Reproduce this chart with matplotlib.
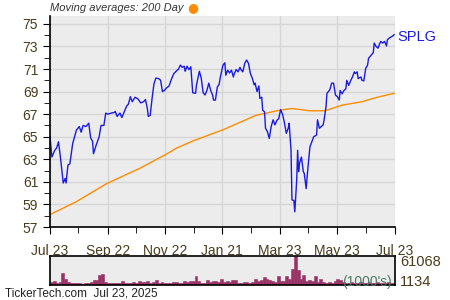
import datetime as dt

import matplotlib
matplotlib.use("Agg")
import matplotlib.pyplot as plt
import matplotlib.dates as mdates
import numpy as np

plt.rcParams["font.family"] = ["Liberation Sans", "DejaVu Sans"]

# ---------------------------------------------------------------------------
# Data
# ---------------------------------------------------------------------------
START = dt.date(2024, 7, 23)
END = dt.date(2025, 7, 23)

# days after START, closing price
price_days = [
    0.5, 2.5, 5.3, 7.0, 9.5, 11.6, 14.1, 16.6, 17.6, 19.4, 21.9, 24.7, 28.2,
    31.7, 33.5, 35.3, 38.8, 41.6, 43.4, 45.1, 46.9, 49.4, 52.2, 54.0, 57.5,
    59.2, 61.7, 65.2, 68.0, 69.8, 71.6, 74.1, 76.5, 78.6, 81.1, 83.6, 85.7,
    87.8, 90.6, 93.5, 96.3, 99.1, 101.2, 103.3, 104.7, 106.9, 108.3, 110.4,
    112.9, 115.3, 117.4, 119.9, 121.7, 123.4, 126.2, 128.7, 131.2, 134.0,
    136.5, 138.6, 140.4, 142.1, 143.5, 145.7, 147.4, 149.9, 151.6, 154.1,
    155.9, 158.7, 160.5, 162.2, 164.0, 166.4, 168.6, 170.3, 172.1, 173.5,
    175.6, 177.4, 179.1, 180.9, 183.4, 185.1, 186.9, 188.7, 190.4, 192.2,
    194.0, 195.7, 197.5, 199.6, 201.0, 202.8, 204.5, 206.3, 208.8, 210.9,
    212.3, 214.4, 216.2, 217.9, 219.7, 221.1, 222.9, 224.3, 225.7, 227.1,
    228.5, 230.6, 232.8, 234.5, 236.3, 238.0, 240.9, 242.3, 244.4, 246.9,
    248.6, 250.4, 252.1, 253.9, 255.7, 256.7, 258.5, 259.9, 261.0, 262.0,
    263.4, 264.5, 266.3, 268.0, 269.8, 271.5, 273.3, 275.1, 277.5, 279.7,
    282.1, 283.9, 285.6, 287.4, 289.2, 290.9, 292.7, 293.7, 296.2, 298.7,
    300.8, 302.2, 304.4, 306.1, 307.9, 309.6, 311.4, 313.2, 314.9, 316.7,
    318.4, 320.2, 322.0, 323.7, 325.5, 326.9, 329.0, 330.8, 332.5, 334.3,
    336.1, 337.8, 340.3, 342.0, 343.8, 345.6, 347.4, 349.1, 350.9, 352.7,
    354.4, 356.2, 357.9, 359.7, 361.5, 363.3, 364.3,
]
price = [
    65.0, 63.2, 63.8, 64.0, 64.55, 63.2, 60.9, 61.3, 60.9, 62.5, 62.6, 64.4, 65.6,
    65.9, 65.4, 66.0, 65.9, 66.2, 64.9, 64.6, 63.5, 64.3, 65.0, 66.0, 66.0,
    67.1, 67.0, 67.1, 67.15, 67.25, 66.8, 67.1, 66.7, 67.1, 67.7, 67.9, 68.55,
    68.1, 68.5, 68.35, 68.0, 68.1, 68.3, 67.5, 66.8, 66.9, 68.4, 69.7,
    70.2, 70.15, 70.0, 69.0, 69.1, 69.3, 69.5, 70.0, 70.6, 70.85,
    71.0, 71.35, 71.15, 71.25, 70.8, 71.25, 70.95, 71.2, 68.9, 68.85,
    69.6, 70.8, 70.2, 68.9, 68.7, 69.1, 69.75, 69.1, 68.7, 68.25,
    68.25, 69.4, 69.65, 70.2, 71.35, 71.55, 70.45, 70.9, 70.65, 70.9,
    70.3, 70.6, 70.95, 70.75, 71.15, 70.95, 70.75, 71.5, 71.8, 71.5,
    70.6, 70.2, 69.6, 69.75, 69.0, 69.5, 68.4, 68.5, 67.35, 67.2,
    65.75, 65.45, 64.85, 65.9, 66.5, 66.05, 66.45, 66.6, 67.4, 67.0,
    66.25, 65.3, 65.75, 66.2, 63.8, 59.4, 59.35, 58.35, 61.15, 63.8,
    61.9, 62.65, 63.2, 61.9, 61.75, 60.4, 62.35, 64.1, 64.55, 65.0,
    65.15, 66.5, 65.75, 65.9, 66.05, 66.5, 67.65, 68.85, 69.15, 69.75,
    69.75, 68.7, 68.55, 68.25, 69.1, 68.8, 69.1, 69.25, 70.0, 69.55,
    69.95, 70.3, 70.75, 70.6, 70.75, 70.15, 70.3, 70.0, 69.95, 71.05,
    71.35, 71.95, 72.25, 72.45, 73.3, 73.0, 72.85, 73.3, 73.45, 73.3,
    73.45, 73.05, 73.6, 73.75, 73.85, 73.95, 74.05,
]

# 200 day moving average
ma_days = [0.5, 28, 60, 95, 123, 134, 152, 184, 218, 243, 256, 275, 291, 309, 330, 344, 364]
ma_200 = [58.1, 59.25, 60.85, 62.2, 63.45, 64.0, 64.65, 65.65, 66.9, 67.35, 67.5,
          67.3, 67.3, 67.8, 68.1, 68.45, 68.85]

# volume (1000's), one bar every 3 days
volume = [
    6800, 9000, 4500, 6800, 24900, 13600, 6800, 4500, 4200, 4500, 4800, 2300,
    4500, 4300, 6800, 11300, 11300, 20400, 22600, 6800, 4500, 4200, 4500, 4600,
    4500, 9000, 4500, 4300, 4500, 6800, 4500, 9000, 6800, 6800, 9000, 4500,
    6800, 11300, 4500, 6800, 4500, 4300, 4500, 6800, 6800, 4500, 4200, 9000,
    6800, 9000, 9000, 18100, 9000, 4500, 4500, 11300, 6800, 9000, 9000, 6800,
    13600, 6800, 9000, 6800, 11300, 11300, 4500, 4300, 6800, 6800, 4500, 6800,
    13600, 9000, 11300, 15800, 13600, 11300, 9000, 6800, 18100, 9000, 9000, 18100,
    13600, 33900, 61068, 31700, 13600, 20400, 9000, 11300, 9000, 18100, 6800, 13600,
    6800, 4500, 6800, 4500, 9000, 13600, 11300, 6800, 4500, 4500, 6800, 4500,
    4500, 6800, 4500, 4500, 6800, 4500, 4500, 6800, 4500, 4500, 4500, 6800,
    4500, 4500,
]
vol_min = 1134

major_ticks = [dt.date(2024, 7, 23), dt.date(2024, 9, 22), dt.date(2024, 11, 22),
               dt.date(2025, 1, 21), dt.date(2025, 3, 23), dt.date(2025, 5, 23),
               dt.date(2025, 7, 23)]
minor_ticks = [dt.date(2024, 8, 22), dt.date(2024, 10, 22), dt.date(2024, 12, 22),
               dt.date(2025, 2, 21), dt.date(2025, 4, 22), dt.date(2025, 6, 22)]
y_ticks = list(range(57, 76, 2))

# ---------------------------------------------------------------------------
# Plot
# ---------------------------------------------------------------------------
to_dates = lambda days: [START + dt.timedelta(days=float(d)) for d in days]

BG = "#ececec"
GRID = "#d6d6d6"
TXT = "#4a3c1c"

fig = plt.figure(figsize=(4.5, 3), dpi=100)
ax = fig.add_axes([50 / 450, 1 - 227 / 300, 345 / 450, 211 / 300])
vax = fig.add_axes([50 / 450, 1 - 285 / 300, 345 / 450, 29 / 300])

ax.set_facecolor(BG)
ax.plot(to_dates(ma_days), ma_200, color="#ff8c00", lw=1.0)
ax.plot(to_dates(price_days), price, color="#1a1ae6", lw=1.0)

ax.set_xlim(START, END)
ax.set_ylim(57, 75.7)
ax.set_yticks(y_ticks)
ax.set_yticks(range(57, 76), minor=True)
ax.set_xticks(major_ticks)
ax.set_xticks(minor_ticks, minor=True)
ax.xaxis.set_major_formatter(mdates.DateFormatter("%b %d"))
ax.grid(True, which="major", color=GRID, lw=1.0)
ax.set_axisbelow(True)
for side in ("top", "right"):
    ax.spines[side].set_visible(False)
for side in ("left", "bottom"):
    ax.spines[side].set_linewidth(1.2)
ax.tick_params(which="both", direction="out", colors="black", labelcolor=TXT, labelsize=10)
ax.tick_params(which="major", length=5)
ax.tick_params(which="minor", length=4)
ax.tick_params(axis="x", pad=7)

ax.text(1.008, 0.9, "SPLG", transform=ax.transAxes, color="#1a1ae6", fontsize=10.5,
        va="center", ha="left")
fig.text(50 / 450, 1 - 8 / 300, "Moving averages: 200 Day", style="italic",
         color="#333333", fontsize=8, ha="left", va="center")
fig.text(193 / 450, 1 - 7.5 / 300, "\u25cf", color="#ff8c00", fontsize=9,
         family="DejaVu Sans", ha="center", va="center")

# volume panel
vax.set_facecolor(BG)
vol_dates = to_dates(np.arange(len(volume)) * 3)
vax.bar(vol_dates, volume, width=3, color="#993366", edgecolor="#993366",
        align="edge", lw=0.4)
vax.set_xlim(START, END)
vax.set_ylim(0, max(volume))
vax.set_xticks([])
vax.set_yticks([])
for sp in vax.spines.values():
    sp.set_linewidth(1.2)
vax.text(1.015, 0.78, f"{max(volume)}", transform=vax.transAxes, color=TXT,
         fontsize=10.5, va="center", ha="left")
vax.text(1.015, 0.12, f"{vol_min}", transform=vax.transAxes, color=TXT,
         fontsize=10.5, va="center", ha="left")
vax.text(0.99, 0.12, "(1000's)", transform=vax.transAxes, color="#4f7a66",
         fontsize=10, va="center", ha="right")

fig.text(5 / 450, 1 - 294 / 300, "TickerTech.com  Jul 23, 2025", color="#222222",
         fontsize=8.5, ha="left", va="center")

fig.savefig("out.png", dpi=100)
